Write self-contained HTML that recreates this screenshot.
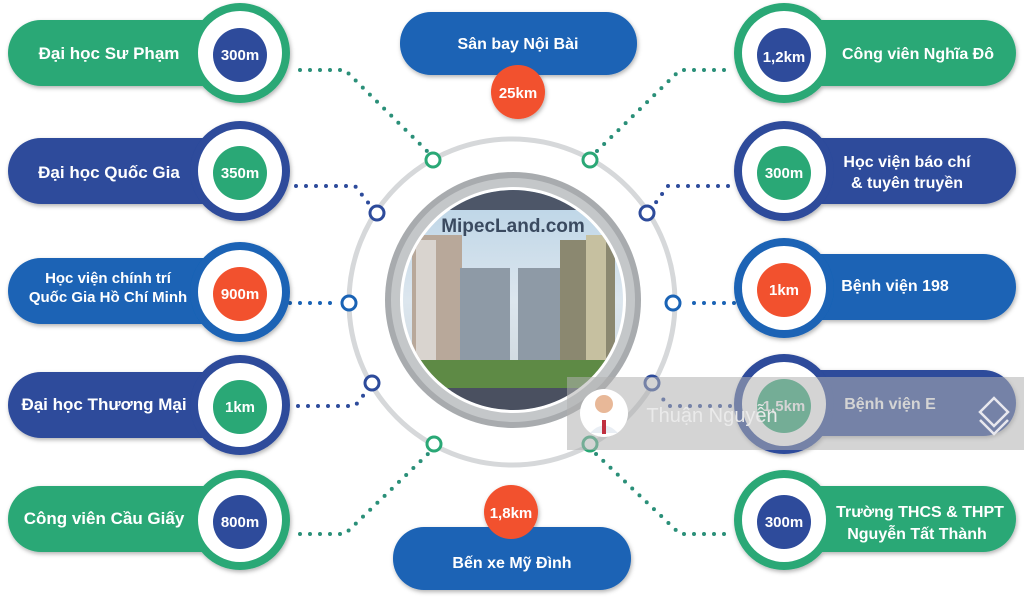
<!DOCTYPE html>
<html><head><meta charset="utf-8"><style>
html,body{margin:0;padding:0;background:#fff;}
svg text{font-family:"Liberation Sans","DejaVu Sans",sans-serif;font-weight:bold;fill:#fff;text-anchor:middle;}
</style></head><body>
<svg width="1024" height="601" viewBox="0 0 1024 601" xmlns="http://www.w3.org/2000/svg">
<defs>
<filter id="sh" x="-30%" y="-30%" width="160%" height="160%"><feDropShadow dx="1" dy="2" stdDeviation="2" flood-opacity="0.3"/></filter>
<linearGradient id="sky" x1="0" y1="0" x2="0" y2="1">
<stop offset="0" stop-color="#b9d3e6"/><stop offset="0.5" stop-color="#dce6ee"/><stop offset="1" stop-color="#c9d2d8"/></linearGradient>
<clipPath id="cc"><circle cx="513" cy="300" r="110"/></clipPath>
</defs>
<!-- outer arc -->
<circle cx="512" cy="302" r="163" fill="none" stroke="#d6d8da" stroke-width="5"/>
<!-- dotted connectors -->
<g fill="none" stroke-width="4" stroke-linecap="round" stroke-dasharray="0 10">
<path d="M300 70 L345 70 L428 152" stroke="#2a8f78"/>
<path d="M296 186 L355 186 L370 205" stroke="#2d4b9b"/>
<path d="M290 303 L340 303" stroke="#1a63b5"/>
<path d="M298 406 L355 406 L366 392" stroke="#2d4b9b"/>
<path d="M300 534 L345 534 L430 452" stroke="#2a8f78"/>
<path d="M724 70 L680 70 L596 152" stroke="#2a8f78"/>
<path d="M728 186 L668 186 L654 205" stroke="#2d4b9b"/>
<path d="M734 303 L684 303" stroke="#1a63b5"/>
<path d="M730 406 L668 406 L658 392" stroke="#2d4b9b"/>
<path d="M724 534 L680 534 L594 452" stroke="#2a8f78"/>
</g>
<!-- small arc circles -->
<g fill="#fff" stroke-width="3">
<circle cx="433" cy="160" r="7" stroke="#2aa876"/>
<circle cx="377" cy="213" r="7" stroke="#2d4b9b"/>
<circle cx="349" cy="303" r="7" stroke="#1a63b5"/>
<circle cx="372" cy="383" r="7" stroke="#2d4b9b"/>
<circle cx="434" cy="444" r="7" stroke="#2aa876"/>
<circle cx="590" cy="160" r="7" stroke="#2aa876"/>
<circle cx="647" cy="213" r="7" stroke="#2d4b9b"/>
<circle cx="673" cy="303" r="7" stroke="#1a63b5"/>
<circle cx="652" cy="383" r="7" stroke="#2d4b9b"/>
<circle cx="590" cy="444" r="7" stroke="#2aa876"/>
</g>
<!-- center -->
<circle cx="513" cy="300" r="128" fill="#a8abae"/>
<circle cx="513" cy="300" r="122" fill="#c4c7c9"/>
<circle cx="513" cy="300" r="113" fill="#fff"/>
<g clip-path="url(#cc)">
<rect x="400" y="188" width="230" height="225" fill="url(#sky)"/>
<rect x="400" y="188" width="230" height="22" fill="#4d5668"/>
<rect x="412" y="235" width="50" height="150" fill="#b8a89a"/>
<rect x="416" y="240" width="20" height="140" fill="#d9d4cf"/>
<rect x="460" y="268" width="50" height="118" fill="#8e9aa6"/>
<rect x="518" y="268" width="42" height="118" fill="#8e9aa6"/>
<rect x="560" y="240" width="55" height="145" fill="#8b8870"/>
<rect x="586" y="235" width="20" height="150" fill="#c6c0a0"/>
<rect x="400" y="360" width="230" height="30" fill="#5e8a45"/>
<rect x="400" y="388" width="230" height="25" fill="#4a5060"/>
</g>
<text x="513" y="232" style="fill:#3a4a60;font-size:19px">MipecLand.com</text>

<!-- LEFT items -->
<g filter="url(#sh)">
<rect x="8" y="20" width="240" height="66" rx="33" fill="#2aa876"/>
<circle cx="240" cy="53" r="50" fill="#2aa876"/><circle cx="240" cy="53" r="42" fill="#fff"/><circle cx="240" cy="55" r="27" fill="#2d4b9b"/>
<rect x="8" y="138" width="240" height="66" rx="33" fill="#2d4b9b"/>
<circle cx="240" cy="171" r="50" fill="#2d4b9b"/><circle cx="240" cy="171" r="42" fill="#fff"/><circle cx="240" cy="173" r="27" fill="#2aa876"/>
<rect x="8" y="258" width="240" height="66" rx="33" fill="#1a63b5"/>
<circle cx="240" cy="292" r="50" fill="#1a63b5"/><circle cx="240" cy="292" r="42" fill="#fff"/><circle cx="240" cy="294" r="27" fill="#f2512e"/>
<rect x="8" y="372" width="240" height="66" rx="33" fill="#2d4b9b"/>
<circle cx="240" cy="405" r="50" fill="#2d4b9b"/><circle cx="240" cy="405" r="42" fill="#fff"/><circle cx="240" cy="407" r="27" fill="#2aa876"/>
<rect x="8" y="486" width="240" height="66" rx="33" fill="#2aa876"/>
<circle cx="240" cy="520" r="50" fill="#2aa876"/><circle cx="240" cy="520" r="42" fill="#fff"/><circle cx="240" cy="522" r="27" fill="#2d4b9b"/>
</g>
<g style="font-size:17px">
<text x="109" y="59">Đại học Sư Phạm</text>
<text x="109" y="178">Đại học Quốc Gia</text>
<text x="108" y="283" style="font-size:15px">Học viện chính trí</text>
<text x="108" y="302" style="font-size:15px">Quốc Gia Hồ Chí Minh</text>
<text x="104" y="410">Đại học Thương Mại</text>
<text x="104" y="524">Công viên Cầu Giấy</text>
</g>
<g style="font-size:15px">
<text x="240" y="60">300m</text><text x="240" y="178">350m</text><text x="240" y="299">900m</text>
<text x="240" y="412">1km</text><text x="240" y="527">800m</text>
</g>

<!-- RIGHT items -->
<g filter="url(#sh)">
<rect x="776" y="20" width="240" height="66" rx="33" fill="#2aa876"/>
<circle cx="784" cy="53" r="50" fill="#2aa876"/><circle cx="784" cy="53" r="42" fill="#fff"/><circle cx="784" cy="55" r="27" fill="#2d4b9b"/>
<rect x="776" y="138" width="240" height="66" rx="33" fill="#2d4b9b"/>
<circle cx="784" cy="171" r="50" fill="#2d4b9b"/><circle cx="784" cy="171" r="42" fill="#fff"/><circle cx="784" cy="173" r="27" fill="#2aa876"/>
<rect x="776" y="254" width="240" height="66" rx="33" fill="#1a63b5"/>
<circle cx="784" cy="288" r="50" fill="#1a63b5"/><circle cx="784" cy="288" r="42" fill="#fff"/><circle cx="784" cy="290" r="27" fill="#f2512e"/>
<rect x="776" y="370" width="240" height="66" rx="33" fill="#2d4b9b"/>
<circle cx="784" cy="404" r="50" fill="#2d4b9b"/><circle cx="784" cy="404" r="42" fill="#fff"/><circle cx="784" cy="406" r="27" fill="#2aa876"/>
<rect x="776" y="486" width="240" height="66" rx="33" fill="#2aa876"/>
<circle cx="784" cy="520" r="50" fill="#2aa876"/><circle cx="784" cy="520" r="42" fill="#fff"/><circle cx="784" cy="522" r="27" fill="#2d4b9b"/>
</g>
<g style="font-size:15px">
<text x="784" y="62">1,2km</text><text x="784" y="178">300m</text><text x="784" y="295">1km</text>
<text x="784" y="411">1,5km</text><text x="784" y="527">300m</text>
</g>
<g style="font-size:16px">
<text x="918" y="59">Công viên Nghĩa Đô</text>
<text x="907" y="167">Học viện báo chí</text>
<text x="907" y="188">&amp; tuyên truyền</text>
<text x="895" y="291">Bệnh viện 198</text>
<text x="890" y="409">Bệnh viện E</text>
<text x="920" y="517">Trường THCS &amp; THPT</text>
<text x="917" y="539">Nguyễn Tất Thành</text>
</g>

<!-- top / bottom -->
<g filter="url(#sh)">
<rect x="400" y="12" width="237" height="63" rx="31" fill="#1a63b5"/>
<circle cx="518" cy="92" r="27" fill="#f2512e"/>
<rect x="393" y="527" width="238" height="63" rx="31" fill="#1a63b5"/>
<circle cx="511" cy="512" r="27" fill="#f2512e"/>
</g>
<text x="518" y="49" style="font-size:16px">Sân bay Nội Bài</text>
<text x="518" y="98" style="font-size:15px">25km</text>
<text x="512" y="568" style="font-size:16px">Bến xe Mỹ Đình</text>
<text x="511" y="518" style="font-size:15px">1,8km</text>

<!-- watermark -->
<rect x="567" y="377" width="457" height="73" fill="#b0b0b0" opacity="0.55"/>
<circle cx="604" cy="413" r="24" fill="#fff"/>
<circle cx="604" cy="404" r="9" fill="#e8b898"/>
<path d="M590 433 Q604 418 618 433 Z" fill="#e9eef4"/>
<rect x="602" y="420" width="4" height="14" fill="#c03040"/>
<text x="712" y="422" style="font-size:20px;font-weight:normal;fill:#eaeaea">Thuận Nguyễn</text>
<g fill="none" stroke="#e8e8ee" stroke-width="2.5">
<path d="M980 412 L994 398 L1008 412 L994 426 Z"/><path d="M980 420 L994 434 L1008 420"/></g>
</svg>
</body></html>
